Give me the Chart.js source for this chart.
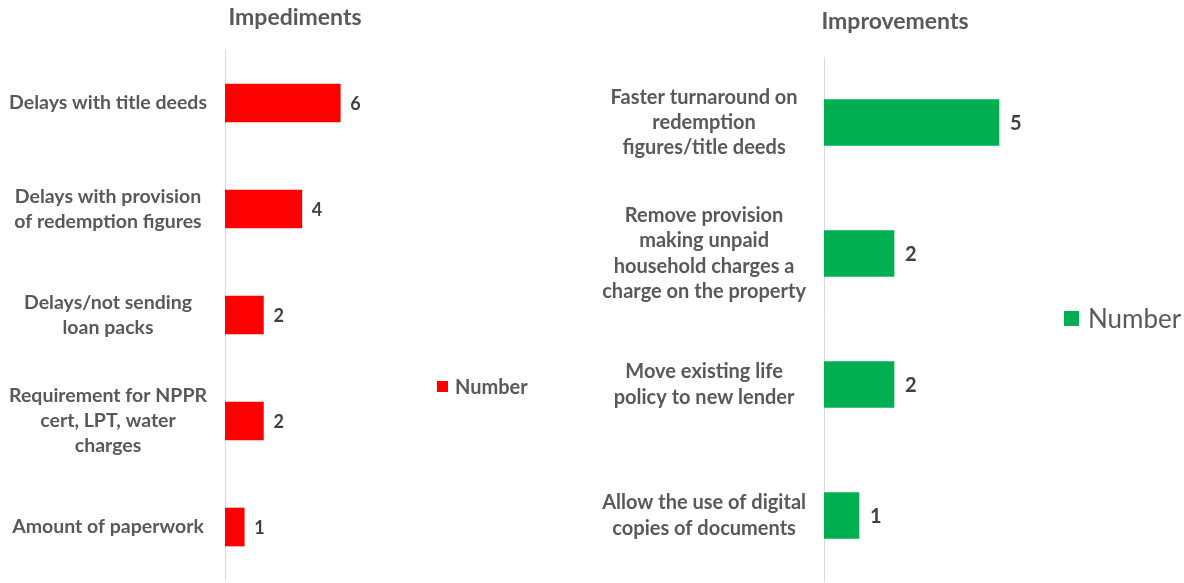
<!DOCTYPE html>
<html>
<head>
<meta charset="utf-8">
<script src="https://cdn.jsdelivr.net/npm/chart.js@4.4.1/dist/chart.umd.min.js"></script>
<style>
html,body{margin:0;padding:0;background:#fff;overflow:hidden}
#wrap{position:relative;width:1184px;height:583px;overflow:hidden;font-family:Lato,"Liberation Sans",sans-serif;color:#595959}
.box{position:absolute;top:0;height:583px}
.leg{position:absolute;display:flex;align-items:center;white-space:nowrap}
.leg i{display:inline-block}
</style>
</head>
<body>
<div id="wrap">
  <div class="box" style="left:0;width:590px"><canvas id="left"></canvas></div>
  <div class="box" style="left:581px;width:628px"><canvas id="right"></canvas></div>
  <div class="leg" id="legLeft" style="left:437px;top:374px;font-weight:bold;font-size:20px"></div>
  <div class="leg" id="legRight" style="left:1064px;top:302px;font-size:26px"></div>
</div>
<script>
// impediments
const impLabels=[['Delays with title deeds'],['Delays with provision','of redemption figures'],['Delays/not sending','loan packs'],['Requirement for NPPR','cert, LPT, water','charges'],['Amount of paperwork']];
const impValues=[6,4,2,2,1];
// improvements
const impvLabels=[['Faster turnaround on','redemption','figures/title deeds'],['Remove provision','making unpaid','household charges a','charge on the property'],['Move existing life','policy to new lender'],['Allow the use of digital','copies of documents']];
const impvValues=[5,2,2,1];
const seriesName='Number';

const GREY='#595959';
const valueLabels={
  id:'valueLabels',
  afterDatasetsDraw(chart,args,opts){
    const ctx=chart.ctx;
    chart.data.datasets.forEach((ds,i)=>{
      chart.getDatasetMeta(i).data.forEach((bar,j)=>{
        ctx.save();
        ctx.font='bold '+opts.size+'px Lato';
        ctx.fillStyle='#404040';ctx.textAlign='left';ctx.textBaseline='middle';
        ctx.fillText(ds.data[j],bar.x+opts.offset,bar.y+1);
        ctx.restore();
      });
    });
  }
};

function makeChart(id,labels,values,color,cfg){
  return new Chart(document.getElementById(id),{
    type:'bar',
    data:{labels,datasets:[{label:seriesName,data:values,backgroundColor:color,barThickness:cfg.bar}]},
    options:{
      indexAxis:'y',responsive:true,maintainAspectRatio:false,animation:false,
      layout:{padding:{top:0,right:0,bottom:cfg.padBottom,left:0}},
      plugins:{
        legend:{display:false},tooltip:{enabled:false},
        title:{display:true,text:cfg.title,color:GREY,font:{family:'Lato',size:23,weight:'bold'},padding:{top:cfg.titleTop,bottom:cfg.titleBottom}},
        valueLabels:{size:cfg.valSize,offset:cfg.valOffset}
      },
      scales:{
        x:{display:false,min:0,max:cfg.max},
        y:{grid:{display:false,drawTicks:false},border:{display:true,color:'#d9d9d9'},
           ticks:{color:GREY,font:{family:'Lato',size:cfg.font,weight:'bold',lineHeight:cfg.lh},crossAlign:'center',padding:18},
           afterFit(s){s.width=cfg.axisW;s.paddingTop=0;s.paddingBottom=0;}}
      }
    },
    plugins:[valueLabels]
  });
}

const c1=makeChart('left',impLabels,impValues,'#FF0000',{title:'Impediments',bar:38,padBottom:3,titleTop:4,titleBottom:18.4,max:19,axisW:225,font:19.5,lh:1.28,valSize:18,valOffset:10});
const c2=makeChart('right',impvLabels,impvValues,'#00B050',{title:'Improvements',bar:46,padBottom:2,titleTop:8,titleBottom:21.4,max:11,axisW:243,font:20,lh:1.27,valSize:20,valOffset:11});

function legend(el,chart,sq){
  const ds=chart.data.datasets[0];
  el.innerHTML='<i style="width:'+sq+'px;height:'+sq+'px;background:'+ds.backgroundColor+';margin-right:'+(sq>12?9:7)+'px"></i><span>'+ds.label+'</span>';
}
legend(document.getElementById('legLeft'),c1,11);
legend(document.getElementById('legRight'),c2,15);
</script>
</body>
</html>
